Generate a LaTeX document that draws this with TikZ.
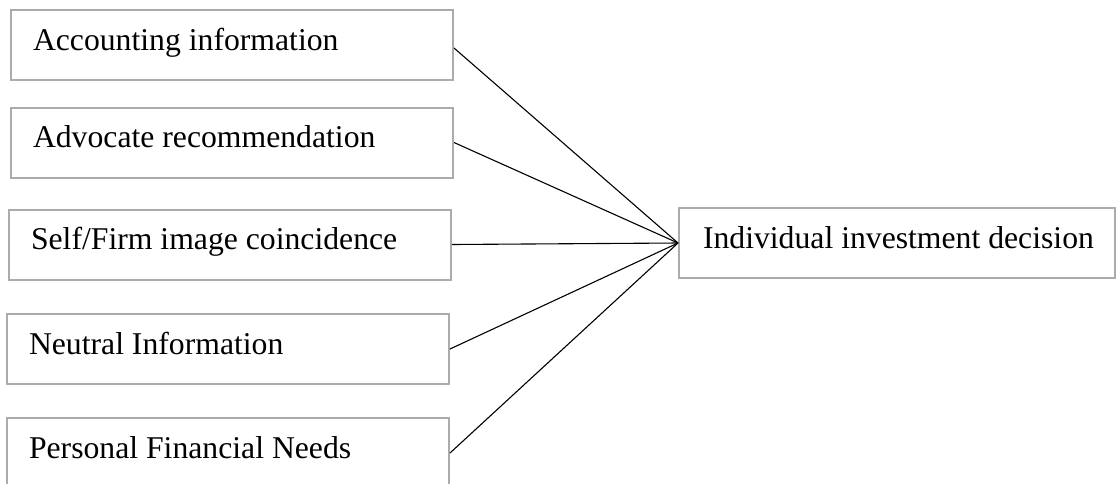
\documentclass[tikz,border=0pt]{standalone}
\usepackage{fontspec}
\setmainfont{Liberation Serif}
\newcommand{\lbox}[2]{\makebox[#1][l]{#2}}
\begin{document}
\begin{tikzpicture}[x=1pt,y=-1pt,
  inbox/.style={draw=boxgray, line width=2pt, rectangle, minimum width=442pt, minimum height=70pt,
    inner xsep=22pt, inner ysep=0pt, text height=20pt, text depth=10pt,
    font=\fontsize{31.7}{36}\selectfont},
  link/.style={draw=black, line width=1.1pt}]
\definecolor{boxgray}{HTML}{ABABAB}
\useasboundingbox (0,0) rectangle (1116,483);
\clip (0,0) rectangle (1116,483);
\node[inbox] (b1) at (232,45) {\lbox{398pt}{Accounting information}};
\node[inbox] (b2) at (232,142.5) {\lbox{398pt}{Advocate recommendation}};
\node[inbox] (b3) at (230,244.5) {\lbox{398pt}{Self/Firm image coincidence}};
\node[inbox] (b4) at (228,349) {\lbox{398pt}{Neutral Information}};
\node[inbox] (b5) at (228,453) {\lbox{398pt}{Personal Financial Needs}};
\node[inbox, minimum width=436pt, inner xsep=24pt] (d) at (897,243) {\lbox{388pt}{Individual investment decision}};
\draw[link] ([yshift=-3pt]b1.east) -- (d.west);
\draw[link] (b2.east) -- (d.west);
\draw[link] (b3.east) -- (d.west);
\draw[link] (b4.east) -- (d.west);
\draw[link] (b5.east) -- (d.west);
\end{tikzpicture}
\end{document}
